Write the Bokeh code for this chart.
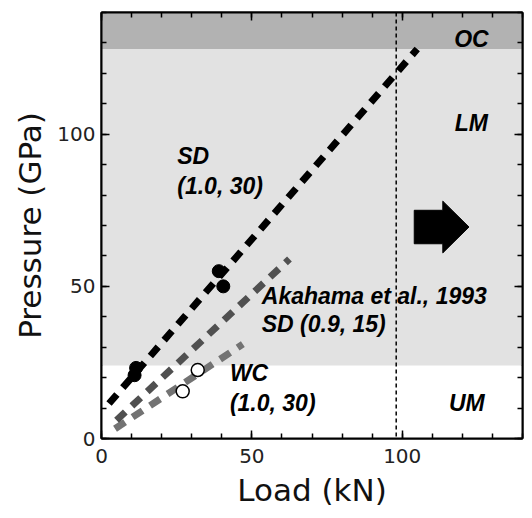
from bokeh.plotting import figure
from bokeh.models import (Range1d, LinearAxis, SingleIntervalTicker, Span,
                          CustomJSTickFormatter)
from bokeh.core.properties import value
from bokeh.embed import file_html
from bokeh.resources import INLINE

# ---- data ----
zone_names = ["UM", "LM", "OC"]
zone_bottom = [0, 24, 128]
zone_top = [24, 128, 140]
zone_colors = ["#ffffff", "#e2e2e2", "#b2b2b2"]
zone_label_x = [121.5, 123, 123]
zone_label_y = [11.8, 103.6, 131.3]

sd_line_x = [2.5, 105]
sd_line_y = [11.5, 128]
ak_line_x = [5, 62.5]
ak_line_y = [6, 59]
wc_line_x = [4.5, 47]
wc_line_y = [3.2, 31]

sd_pts_x = [11.5, 11.0, 39.0, 40.5]
sd_pts_y = [23.2, 20.8, 55.0, 50.0]
wc_pts_x = [27.0, 32.0]
wc_pts_y = [15.5, 22.5]

cmb_load = 98

# ---- figure ----
p = figure(width=524, height=510, output_backend="svg", toolbar_location=None,
           x_range=Range1d(0, 140), y_range=Range1d(0, 140),
           min_border_left=101, min_border_right=2, min_border_top=12,
           min_border_bottom=70)
p.grid.visible = False
p.background_fill_color = "white"
p.border_fill_color = "white"
p.outline_line_color = "black"
p.outline_line_width = 2

p.quad(left=0, right=140, bottom=zone_bottom, top=zone_top,
       fill_color=zone_colors, line_color=None)

p.add_layout(Span(location=cmb_load, dimension="height", line_color="black",
                  line_width=1.5, line_dash="4 3"))

p.line(wc_line_x, wc_line_y, line_color="#737373", line_width=7, line_dash="12 9")
p.line(ak_line_x, ak_line_y, line_color="#505050", line_width=7, line_dash="12 9")
p.line(sd_line_x, sd_line_y, line_color="black", line_width=7, line_dash="12 9")

p.scatter(sd_pts_x, sd_pts_y, size=13, fill_color="black", line_color="black")
p.scatter(wc_pts_x, wc_pts_y, size=13, fill_color="white", line_color="black",
          line_width=1.5)

# block arrow
ax0, ax1, axh, ay = 104, 113.5, 122.2, 69.5
bh, hh = 5.5, 8.5
p.patch([ax0, ax1, ax1, axh, ax1, ax1, ax0],
        [ay - bh, ay - bh, ay - hh, ay, ay + hh, ay + bh, ay + bh],
        fill_color="black", line_color="black")

lab_font = value("Liberation Sans")
lab_kw = dict(text_font=lab_font, text_font_style="bold italic",
              text_font_size="23px", text_color="black", text_baseline="middle")
p.text(zone_label_x, zone_label_y, text=zone_names, text_align="center", **lab_kw)
p.text([25.2, 25.2], [92.8, 83.0], text=["SD", "(1.0, 30)"], text_align="left", **lab_kw)
p.text([53.3, 53.3], [46.9, 37.7], text=["Akahama et al., 1993", "SD (0.9, 15)"],
       text_align="left", **lab_kw)
p.text([42.7, 42.7], [21.6, 11.8], text=["WC", "(1.0, 30)"], text_align="left", **lab_kw)

# axes
def style_axis(ax, labels=True):
    ax.ticker = SingleIntervalTicker(interval=50, num_minor_ticks=5)
    ax.axis_line_color = "black"
    ax.axis_line_width = 2
    ax.major_tick_in = 8
    ax.major_tick_out = 0
    ax.minor_tick_in = 5
    ax.minor_tick_out = 0
    ax.major_tick_line_width = 1.5
    ax.minor_tick_line_width = 1.5
    ax.major_tick_line_color = "black"
    ax.minor_tick_line_color = "black"
    if labels:
        ax.major_label_text_font = "DejaVu Sans"
        ax.major_label_text_font_size = "20px"
        ax.major_label_text_color = "#222222"
        ax.axis_label_text_font = "DejaVu Sans"
        ax.axis_label_text_font_size = "31px"
        ax.axis_label_text_font_style = "normal"
        ax.axis_label_text_color = "#111111"
    else:
        ax.formatter = CustomJSTickFormatter(code="return ''")
        ax.major_label_standoff = 0

style_axis(p.xaxis[0])
style_axis(p.yaxis[0])
p.xaxis.axis_label = "Load (kN)"
p.yaxis.axis_label = "Pressure (GPa)"
p.xaxis.major_label_standoff = 10
p.yaxis.major_label_standoff = 6
p.xaxis.axis_label_standoff = 6
p.yaxis.axis_label_standoff = 6

top = LinearAxis()
style_axis(top, labels=False)
p.add_layout(top, "above")
right = LinearAxis()
style_axis(right, labels=False)
p.add_layout(right, "right")

open("out.html", "w").write(file_html(p, INLINE))
